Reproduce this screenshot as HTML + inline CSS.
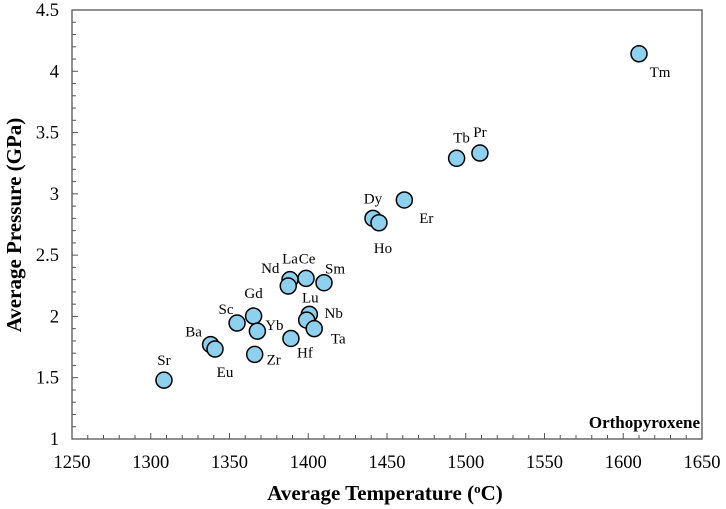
<!DOCTYPE html>
<html><head><meta charset="utf-8"><style>
html,body{margin:0;padding:0;background:#fff;}
svg{display:block;font-family:"Liberation Serif",serif;}
text{font-family:"Liberation Serif",serif;}
</style></head><body>
<svg id="chart" width="726" height="509" viewBox="0 0 726 509" xmlns="http://www.w3.org/2000/svg">
<g id="axes"></g><g id="points"></g>
<text x="700" y="428" text-anchor="end" font-size="17" font-weight="bold">Orthopyroxene</text>
<text x="385" y="500" text-anchor="middle" font-size="21" font-weight="bold">Average Temperature (<tspan dy="-7" font-size="13">o</tspan><tspan dy="7">C)</tspan></text>
<text transform="translate(21,225) rotate(-90)" text-anchor="middle" font-size="21" font-weight="bold">Average Pressure (GPa)</text>
</svg>
<script>
const elements=["Sr","Ba","Eu","Sc","Gd","Yb","Zr","La","Nd","Ce","Lu","Nb","Ta","Hf","Sm","Dy","Ho","Er","Tb","Pr","Tm"];
const temps=[1308.4,1338,1340.8,1354.8,1365.3,1367.7,1366,1388.4,1387.3,1398.6,1400.7,1399,1403.8,1389,1410,1441.1,1444.9,1461,1494.2,1509,1610];
const pressures=[1.48,1.77,1.734,1.946,2.003,1.88,1.69,2.30,2.248,2.31,2.017,1.97,1.90,1.82,2.275,2.80,2.764,2.95,3.29,3.333,4.143];
const labelDx=[0,-17,10,-11,0,17,19,0,-18,1,1,27,24,14,11,0,4,22,5,0,21];
const labelDy=[-20,-13,23,-14,-23,-6,5,-21,-18,-20,-17,-7,10,14,-14,-20,25,18,-21,-21,18];
const xTicks=[1250,1300,1350,1400,1450,1500,1550,1600,1650];
const yTicks=[1,1.5,2,2.5,3,3.5,4,4.5];
const X0=72,X1=702,Y0=439,Y1=10;
const xs=t=>X0+(t-1250)/400*(X1-X0);
const ys=p=>Y0-(p-1)/3.5*(Y0-Y1);
const NS="http://www.w3.org/2000/svg";
function mk(tag,at,parent){const e=document.createElementNS(NS,tag);for(const k in at)e.setAttribute(k,at[k]);parent.appendChild(e);return e;}
const ax=document.getElementById('axes'),pt=document.getElementById('points');
let f=mk('rect',{x:X0,y:Y1,width:X1-X0,height:Y0-Y1,fill:'none',stroke:'#555','stroke-width':1.3},ax);


for(let t=1250;t<=1650;t+=10){const x=xs(t);mk('line',{x1:x,x2:x,y1:Y0,y2:Y0-((t%50===0)?6:4),stroke:'#555','stroke-width':1},ax);}
for(let i=10;i<=45;i++){const y=ys(i/10);mk('line',{x1:X0,x2:X0+((i%5===0)?6:4),y1:y,y2:y,stroke:'#555','stroke-width':1},ax);}
xTicks.forEach(t=>{const e=mk('text',{x:xs(t),y:Y0+29,'text-anchor':'middle','font-size':18.5},ax);e.textContent=t;

});
yTicks.forEach(p=>{const e=mk('text',{x:X0-13,y:ys(p)+6,'text-anchor':'end','font-size':18.5},ax);e.textContent=p;

});
elements.forEach((el,i)=>{const cx=xs(temps[i]),cy=ys(pressures[i]);
const c=mk('circle',{cx:cx,cy:cy,r:8,fill:'#8fd0ee',stroke:'#000','stroke-width':1.5},pt);


const l=mk('text',{x:cx+labelDx[i],y:cy+labelDy[i]+5,'text-anchor':'middle','font-size':15},pt);l.textContent=el;

});
</script>
</body></html>
